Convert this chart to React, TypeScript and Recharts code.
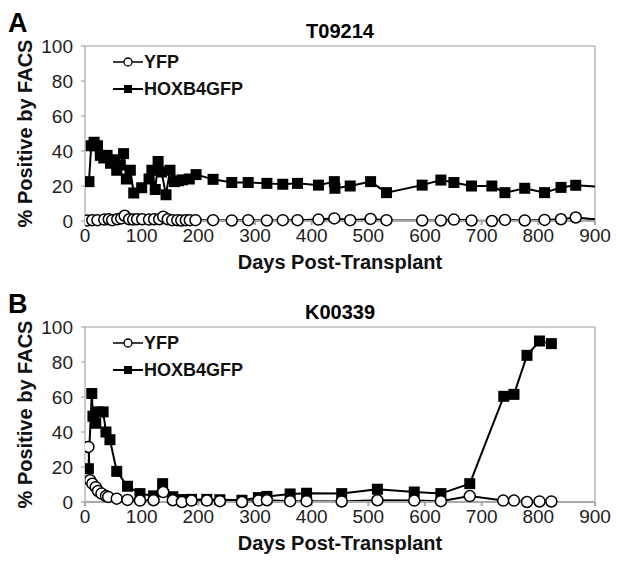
import { LineChart, Line, XAxis, YAxis, ReferenceLine, Label } from 'recharts'

// Panel A - T09214
const A_HOX_DAYS = [7, 11, 16, 22, 27, 33, 39, 45, 52, 56, 62, 68, 73, 80, 86, 100, 113, 118, 124, 129, 135, 143, 150, 158, 165, 172, 184, 196, 226, 259, 288, 321, 349, 375, 412, 440, 441, 468, 504, 532, 595, 628, 651, 682, 718, 741, 776, 811, 840, 866, 930]
const A_HOX_VALUES = [22.5, 43, 45, 43, 37.5, 36, 37.5, 33, 35, 29, 32, 38.5, 24, 29, 16, 19, 24, 29, 18, 34, 28, 15, 29, 22.5, 23, 23.5, 24, 26.5, 23.8, 22, 22, 21.5, 21, 21.5, 20.5, 22.5, 18.7, 20, 22.5, 16.2, 20.5, 23.4, 22, 20, 20, 16.2, 18.7, 16.2, 19.2, 20.4, 19]
const A_YFP_DAYS = [4, 13, 22, 34, 42, 48, 57, 64, 70, 78, 85, 92, 101, 113, 122, 131, 138, 146, 154, 163, 170, 178, 185, 195, 226, 259, 288, 321, 349, 375, 412, 440, 468, 504, 532, 595, 628, 651, 682, 718, 741, 776, 811, 840, 866, 920]
const A_YFP_VALUES = [0.3, 0.5, 0.5, 0.8, 1, 0.5, 1, 1.5, 3, 1, 0.8, 1, 1, 0.8, 1, 1, 2.5, 1, 0.5, 0.5, 0.3, 0.5, 0.5, 0.5, 0.5, 0.3, 0.5, 0.3, 0.5, 0.5, 0.8, 1.5, 0.5, 1.2, 0.5, 0.3, 0.3, 0.8, 0.3, 0, 0.6, 0.3, 0.6, 1, 2, 0.3]

// Panel B - K00339
const B_HOX_DAYS = [6, 12, 14, 19, 23, 32, 37, 44, 56, 75, 97, 121, 137, 155, 171, 188, 215, 238, 277, 306, 321, 362, 391, 453, 516, 581, 628, 679, 739, 757, 780, 802, 823]
const B_HOX_VALUES = [19, 62, 49, 45, 51.5, 51.5, 40, 35.6, 17.5, 9, 4.8, 3.5, 10.5, 3, 1.4, 1.5, 1.5, 1.3, 1, 2.5, 3.2, 4.6, 5, 4.8, 7.3, 5.7, 4.8, 10.5, 60.4, 61.5, 83.8, 92, 90.5]
const B_YFP_DAYS = [6, 9, 13, 19, 23, 29, 37, 41, 56, 75, 97, 121, 138, 155, 171, 188, 215, 238, 277, 306, 321, 362, 391, 453, 516, 581, 628, 679, 738, 757, 780, 802, 823]
const B_YFP_VALUES = [31.5, 12.5, 10.5, 8.5, 6.3, 4.8, 3.4, 2.9, 1.9, 1.2, 0.8, 1, 5.7, 1, 0, 0.8, 0.8, 0.5, 0, 0.8, 1, 0.5, 0.5, 0.3, 1, 0.8, 0.5, 3.4, 0.8, 0.8, 0, 0.3, 0.3]

const X_TICKS = [0, 100, 200, 300, 400, 500, 600, 700, 800, 900]
const Y_TICKS = [0, 20, 40, 60, 80, 100]

const FONT = '"Liberation Sans", Arial, sans-serif'
const W = 621
const H = 282

const zip = (days: number[], values: number[]) => days.map((day, i) => ({ day, value: values[i] }))

const SquareDot = (props: any) => {
  const { cx, cy, index } = props
  if (cx == null || cy == null) return <g key={`s-${index}`} />
  return <rect key={`s-${index}`} x={cx - 5.5} y={cy - 5.5} width={11} height={11} fill="#000" />
}

const CircleDot = (props: any) => {
  const { cx, cy, index } = props
  if (cx == null || cy == null) return <g key={`c-${index}`} />
  return <circle key={`c-${index}`} cx={cx} cy={cy} r={5.5} fill="#fff" stroke="#000" strokeWidth={1.5} />
}

function LegendBox({ top }: { top: number }) {
  return (
    <svg style={{ position: 'absolute', left: 110, top, overflow: 'visible' }} width={150} height={50}>
      <line x1={3} x2={33} y1={10} y2={10} stroke="#000" strokeWidth={1.5} />
      <circle cx={18} cy={10} r={4} fill="#fff" stroke="#000" strokeWidth={1.3} />
      <text x={34} y={16} fontFamily={FONT} fontWeight="bold" fontSize={18} fill="#111">YFP</text>
      <line x1={3} x2={33} y1={37} y2={37} stroke="#000" strokeWidth={2} />
      <rect x={14} y={33} width={8} height={8} fill="#000" />
      <text x={34} y={43} fontFamily={FONT} fontWeight="bold" fontSize={18} fill="#111">HOXB4GFP</text>
    </svg>
  )
}

function Panel({ letter, title, hox, yfp, marginTop }: { letter: string; title: string; hox: any[]; yfp: any[]; marginTop: number }) {
  return (
    <div style={{ position: 'relative', width: W, height: H }}>
      <div style={{ position: 'absolute', left: 8, top: marginTop - 36, fontFamily: FONT, fontWeight: 'bold', fontSize: 27, lineHeight: '27px' }}>{letter}</div>
      <div style={{ position: 'absolute', left: 85, width: 510, top: marginTop - 25, textAlign: 'center', fontFamily: FONT, fontWeight: 'bold', fontSize: 20, lineHeight: '20px' }}>{title}</div>
      <LineChart width={W} height={H} margin={{ top: marginTop, right: 26, left: 0, bottom: H - marginTop - 175 - 30 }}>
        <XAxis
          type="number"
          dataKey="day"
          domain={[0, 900]}
          ticks={X_TICKS}
          allowDataOverflow
          height={30}
          stroke="#aaa"
          strokeWidth={2}
          tickSize={4}
          tickMargin={4}
          tick={{ fontFamily: FONT, fontSize: 19, fill: '#222' }}
        >
          <Label value="Days Post-Transplant" position="insideBottom" offset={-18} style={{ fontFamily: FONT, fontWeight: 'bold', fontSize: 20, fill: '#111' }} />
        </XAxis>
        <YAxis
          type="number"
          domain={[0, 100]}
          ticks={Y_TICKS}
          width={85}
          stroke="#999"
          tickSize={4}
          tickMargin={8}
          tick={{ fontFamily: FONT, fontSize: 19, fill: '#222' }}
        >
          <Label value="% Positive by FACS" angle={-90} position="insideLeft" offset={25} style={{ textAnchor: 'middle', fontFamily: FONT, fontWeight: 'bold', fontSize: 20, fill: '#111' }} />
        </YAxis>
        <ReferenceLine y={100} stroke="#999" />
        <ReferenceLine x={900} stroke="#999" />
        <Line data={hox} dataKey="value" stroke="#000" strokeWidth={2} dot={SquareDot} isAnimationActive={false} />
        <Line data={yfp} dataKey="value" stroke="#000" strokeWidth={2} dot={CircleDot} isAnimationActive={false} />
      </LineChart>
      <LegendBox top={marginTop + 6} />
    </div>
  )
}

export default function App() {
  return (
    <div style={{ position: 'absolute', left: 0, top: 0, width: W, height: 564, background: '#fff' }}>
      <Panel letter="A" title="T09214" hox={zip(A_HOX_DAYS, A_HOX_VALUES)} yfp={zip(A_YFP_DAYS, A_YFP_VALUES)} marginTop={46} />
      <Panel letter="B" title="K00339" hox={zip(B_HOX_DAYS, B_HOX_VALUES)} yfp={zip(B_YFP_DAYS, B_YFP_VALUES)} marginTop={45} />
    </div>
  )
}
